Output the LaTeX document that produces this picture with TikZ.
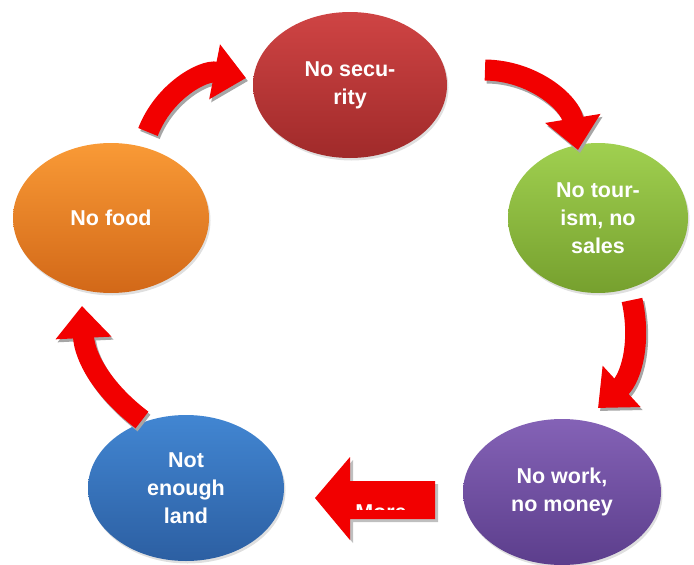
\documentclass[tikz,border=0pt]{standalone}
\usepackage{fontspec}
\setmainfont{Liberation Sans}
\usetikzlibrary{arrows.meta,shapes.geometric,shadows}
\definecolor{redT}{HTML}{CF4444}
\definecolor{redB}{HTML}{A02A2A}
\definecolor{grnT}{HTML}{A0D050}
\definecolor{grnB}{HTML}{76A02E}
\definecolor{purT}{HTML}{8462B6}
\definecolor{purB}{HTML}{5C3E8C}
\definecolor{bluT}{HTML}{4286D2}
\definecolor{bluB}{HTML}{2C5FA2}
\definecolor{orgT}{HTML}{F99A36}
\definecolor{orgB}{HTML}{D26818}
\definecolor{arrred}{HTML}{F20000}
\begin{document}
\begin{tikzpicture}[x=1pt,y=-1pt,
  bubble/.style={ellipse,inner sep=0pt,align=center,text=white,
    font=\fontsize{21.5}{28}\selectfont\bfseries,
    drop shadow={shadow xshift=1.5pt,shadow yshift=-2.5pt,opacity=.25}},
  curvy/.style={draw=arrred,line width=21pt,
    -{Triangle[length=32pt,width=54pt]}},
  curvyshadow/.style={draw=black!35,line width=21pt,
    -{Triangle[length=32pt,width=54pt]}}]
\useasboundingbox (0,0) rectangle (694,565);
% nodes
\node[bubble,minimum width=194pt,minimum height=146pt,top color=redT,bottom color=redB] (sec) at (350,85) {No secu-\\rity};
\node[bubble,minimum width=180pt,minimum height=150pt,top color=grnT,bottom color=grnB] (tour) at (598,218) {No tour-\\ism, no\\sales};
\node[bubble,minimum width=198pt,minimum height=146pt,top color=purT,bottom color=purB] (work) at (562,492) {No work,\\no money};
\node[bubble,minimum width=196pt,minimum height=146pt,top color=bluT,bottom color=bluB] (land) at (186,488) {Not\\enough\\land};
\node[bubble,minimum width=196pt,minimum height=150pt,top color=orgT,bottom color=orgB] (food) at (111,218) {No food};
% arrow end points
\coordinate (a1s) at (148,132); \coordinate (a1e) at (246,78);
\coordinate (a2s) at (485,70);  \coordinate (a2e) at (578,150);
\coordinate (a3s) at (632,300); \coordinate (a3e) at (598,408);
\coordinate (a4s) at (142,420); \coordinate (a4e) at (82,306);
\coordinate (a1sh) at (150,135); \coordinate (a1eh) at (248,81);
\coordinate (a2sh) at (487,73);  \coordinate (a2eh) at (580,153);
\coordinate (a3sh) at (634,303); \coordinate (a3eh) at (600,411);
\coordinate (a4sh) at (144,423); \coordinate (a4eh) at (84,309);
% shadows
\draw[curvyshadow] (a1sh) to[bend left=40] (a1eh);
\draw[curvyshadow] (a2sh) to[bend left=40] (a2eh);
\draw[curvyshadow] (a3sh) to[bend left=30] (a3eh);
\draw[curvyshadow] (a4sh) to[bend left=25] (a4eh);
% arrows
\draw[curvy] (a1s) to[bend left=40] (a1e);
\draw[curvy] (a2s) to[bend left=40] (a2e);
\draw[curvy] (a3s) to[bend left=30] (a3e);
\draw[curvy] (a4s) to[bend left=25] (a4e);
% straight arrow "More"
\fill[black!25] (438,484) -- (438,522) -- (353,522) -- (353,543) -- (318,501) -- (353,460) -- (353,484) -- cycle;
\fill[arrred] (435,481) -- (435,519) -- (350,519) -- (350,540) -- (315,498) -- (350,457) -- (350,481) -- cycle;
\begin{scope}
\clip (340,470) rectangle (440,509);
\node[text=white,font=\fontsize{21.5}{24}\selectfont\bfseries,anchor=base] (more) at (381,519) {More};
\end{scope}
\end{tikzpicture}
\end{document}
